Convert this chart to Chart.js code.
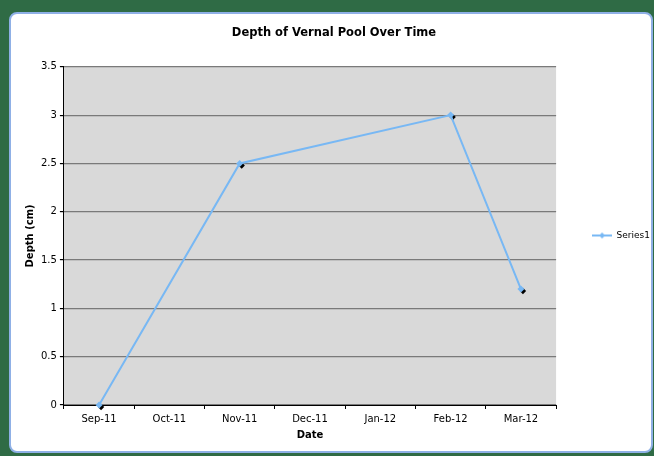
<!DOCTYPE html>
<html>
<head>
<meta charset="utf-8">
<script src="https://cdn.jsdelivr.net/npm/chart.js@4.4.0/dist/chart.umd.min.js"></script>
<style>
    html, body { margin: 0; padding: 0; }
    body { width: 654px; height: 456px; background: #2f6b45; position: relative; overflow: hidden; }
    .panel {
        position: absolute; left: 9px; top: 12px; width: 640px; height: 437px;
        background: #ffffff; border: 2px solid #8fb0e6; border-radius: 8px;
    }
    #wrap { position: absolute; left: 0; top: 0; width: 654px; height: 456px; }
</style>
</head>
<body>
<div class="panel"></div>
<div id="wrap"><canvas id="lineChart"></canvas></div>
<script>
    const months = ['Sep-11', 'Oct-11', 'Nov-11', 'Dec-11', 'Jan-12', 'Feb-12', 'Mar-12'];
    const depths = [0, null, 2.5, null, null, 3, 1.2];
    const yTicks = [0, 0.5, 1, 1.5, 2, 2.5, 3, 3.5];

    const lineBlue = '#78b8f4';
    const fontFam = '"DejaVu Sans", Verdana, sans-serif';

    // legend swatch: short line with a diamond in the middle
    const swatch = document.createElement('canvas');
    swatch.width = 20; swatch.height = 10;
    const sc = swatch.getContext('2d');
    sc.strokeStyle = lineBlue; sc.lineWidth = 2;
    sc.beginPath(); sc.moveTo(0, 5); sc.lineTo(20, 5); sc.stroke();
    sc.fillStyle = lineBlue;
    sc.beginPath(); sc.moveTo(10, 2); sc.lineTo(13, 5); sc.lineTo(10, 8); sc.lineTo(7, 5); sc.closePath(); sc.fill();

    const plotBg = {
        id: 'plotBg',
        beforeDraw(chart) {
            const a = chart.chartArea, c = chart.ctx;
            c.save();
            c.fillStyle = '#d9d9d9';
            c.fillRect(a.left, a.top, a.right - a.left, a.bottom - a.top);
            c.restore();
        }
    };

    // black drop shadow under each marker
    const markerShadow = {
        id: 'markerShadow',
        beforeDatasetsDraw(chart) {
            const c = chart.ctx;
            c.save();
            c.fillStyle = '#000';
            chart.getDatasetMeta(0).data.forEach(p => {
                if (p.skip) return;
                const x = p.x + 2, y = p.y + 2, r = 3.2;
                c.beginPath();
                c.moveTo(x, y - r); c.lineTo(x + r, y); c.lineTo(x, y + r); c.lineTo(x - r, y);
                c.closePath(); c.fill();
            });
            c.restore();
        }
    };

    const ctx = document.getElementById('lineChart').getContext('2d');
    new Chart(ctx, {
        type: 'line',
        data: {
            labels: months,
            datasets: [{
                label: 'Series1',
                data: depths,
                borderColor: lineBlue,
                backgroundColor: lineBlue,
                borderWidth: 2,
                spanGaps: true,
                tension: 0,
                pointStyle: 'rectRot',
                pointRadius: 3.5,
                pointBorderWidth: 0,
                clip: false
            }]
        },
        options: {
            responsive: true,
            maintainAspectRatio: false,
            animation: false,
            layout: { padding: { left: 8, right: -6, top: 26, bottom: 11 } },
            plugins: {
                title: {
                    display: true,
                    text: 'Depth of Vernal Pool Over Time',
                    color: '#000',
                    font: { family: fontFam, size: 11.5, weight: 'bold' },
                    padding: { top: 0, bottom: 27 }
                },
                legend: {
                    position: 'right',
                    labels: {
                        usePointStyle: true,
                        pointStyleWidth: 20,
                        color: '#000',
                        font: { family: fontFam, size: 9 },
                        padding: 36,
                        generateLabels: (chart) => [{
                            text: 'Series1',
                            pointStyle: swatch,
                            fillStyle: lineBlue,
                            strokeStyle: lineBlue,
                            lineWidth: 0,
                            datasetIndex: 0
                        }]
                    }
                },
                tooltip: { enabled: false }
            },
            scales: {
                x: {
                    type: 'category',
                    offset: true,
                    border: { color: '#000', width: 1 },
                    grid: { offset: true, drawOnChartArea: false, drawTicks: true, tickLength: 4, color: '#000' },
                    ticks: { color: '#000', font: { family: fontFam, size: 10 }, padding: 4, maxRotation: 0 },
                    title: {
                        display: true, text: 'Date', color: '#000',
                        font: { family: fontFam, size: 10, weight: 'bold' }, padding: { top: 0 }
                    }
                },
                y: {
                    min: yTicks[0],
                    max: yTicks[yTicks.length - 1],
                    afterBuildTicks: (axis) => { axis.ticks = yTicks.map(v => ({ value: v })); },
                    border: { color: '#000', width: 1 },
                    grid: { color: '#7a7a7a', lineWidth: 1.2, tickLength: 4, tickColor: '#000' },
                    ticks: {
                        color: '#000', font: { family: fontFam, size: 10 }, padding: 3,
                        callback: (v) => String(v)
                    },
                    title: {
                        display: true, text: 'Depth (cm)', color: '#000',
                        font: { family: fontFam, size: 10, weight: 'bold' }, padding: { top: 16, bottom: 2 }
                    }
                }
            }
        },
        plugins: [plotBg, markerShadow]
    });
</script>
</body>
</html>
